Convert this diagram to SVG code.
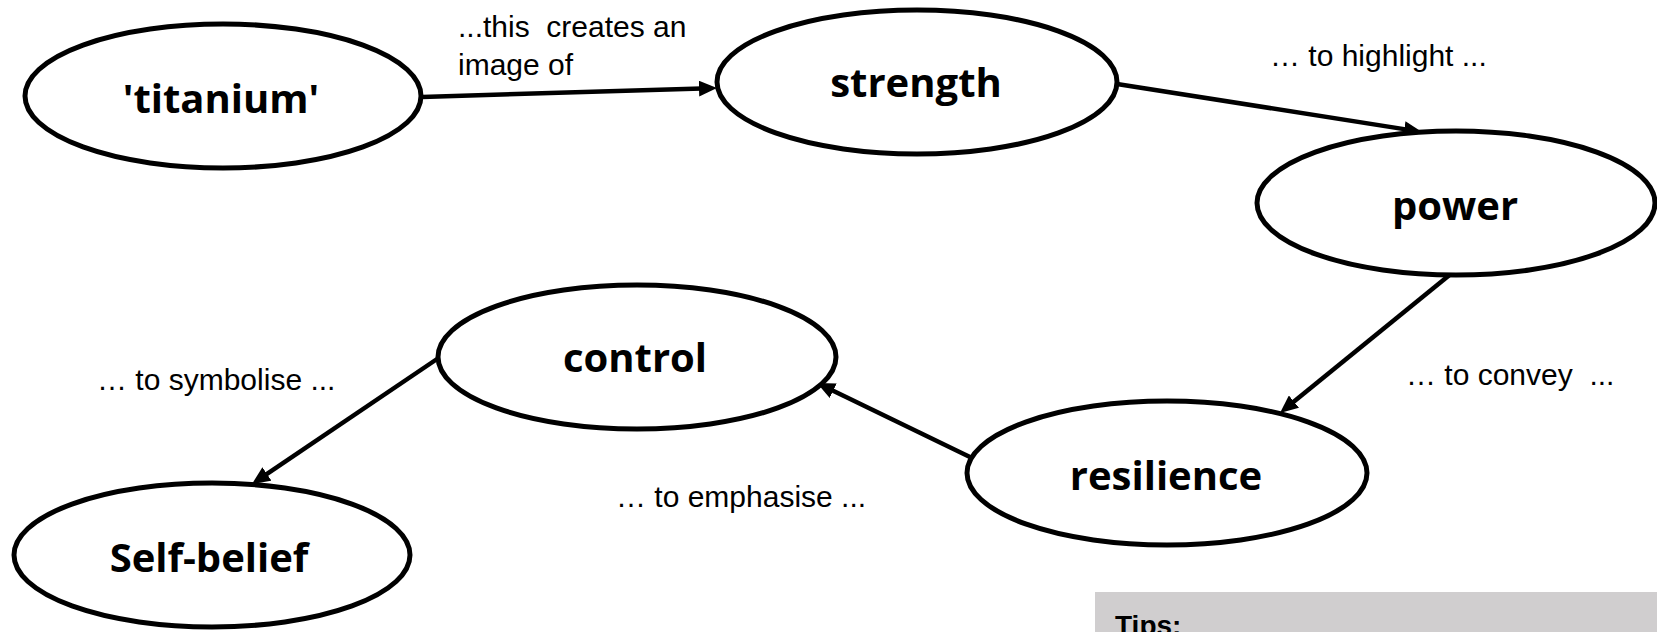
<svg xmlns="http://www.w3.org/2000/svg" width="1657" height="632" viewBox="0 0 1657 632">
<style>
.node ellipse{fill:#fff;stroke:#000;stroke-width:5}
.node text{font-family:"Open Sans","DejaVu Sans",sans-serif;font-weight:700;font-size:40px;fill:#000;text-anchor:middle}
.lbl{font-family:"Liberation Sans",Arial,sans-serif;font-size:30px;fill:#000;white-space:pre}
.conn line{stroke:#000;stroke-width:4.5;fill:none}
</style>
<defs>
<marker id="arr" markerUnits="userSpaceOnUse" markerWidth="18" markerHeight="16" refX="11" refY="8" orient="auto">
<path d="M0,0 L18,8 L0,16 z" fill="#000"/>
</marker>
</defs>
<rect width="1657" height="632" fill="#fff"/>
<g id="connectors" class="conn">
<line x1="422" y1="97" x2="710" y2="88.2" marker-end="url(#arr)"/>
<line x1="1117" y1="84" x2="1415.1" y2="130.9" marker-end="url(#arr)"/>
<line x1="1452" y1="273" x2="1285.4" y2="408.6" marker-end="url(#arr)"/>
<line x1="972" y1="458" x2="823.3" y2="386" marker-end="url(#arr)"/>
<line x1="440" y1="357" x2="257.8" y2="480.1" marker-end="url(#arr)"/>
</g>
<g id="node-titanium" class="node"><ellipse cx="223" cy="96" rx="198" ry="72"/><text x="221" y="113">'titanium'</text></g>
<g id="node-strength" class="node"><ellipse cx="917" cy="82" rx="200" ry="72"/><text x="916" y="97">strength</text></g>
<g id="node-power" class="node"><ellipse cx="1456" cy="203" rx="199" ry="72"/><text x="1455" y="220">power</text></g>
<g id="node-control" class="node"><ellipse cx="637" cy="357" rx="199" ry="72"/><text x="635" y="372">control</text></g>
<g id="node-resilience" class="node"><ellipse cx="1167" cy="473" rx="200" ry="72"/><text x="1166" y="490">resilience</text></g>
<g id="node-selfbelief" class="node"><ellipse cx="212" cy="555" rx="198" ry="72"/><text x="209" y="572">Self-belief</text></g>
<g id="labels">
<text class="lbl" x="458" y="37">...this  creates an</text>
<text class="lbl" x="458" y="75">image of</text>
<text class="lbl" x="1270" y="66">… to highlight ...</text>
<text class="lbl" x="1406" y="385">… to convey  ...</text>
<text class="lbl" x="97" y="390">… to symbolise ...</text>
<text class="lbl" x="616" y="507">… to emphasise ...</text>
</g>
<g id="tips">
<rect x="1095" y="592" width="562" height="40" fill="#d0cecf"/>
<text x="1115" y="635" font-family="Liberation Sans, Arial, sans-serif" font-weight="700" font-size="28" fill="#000">Tips:</text>
</g>
</svg>
